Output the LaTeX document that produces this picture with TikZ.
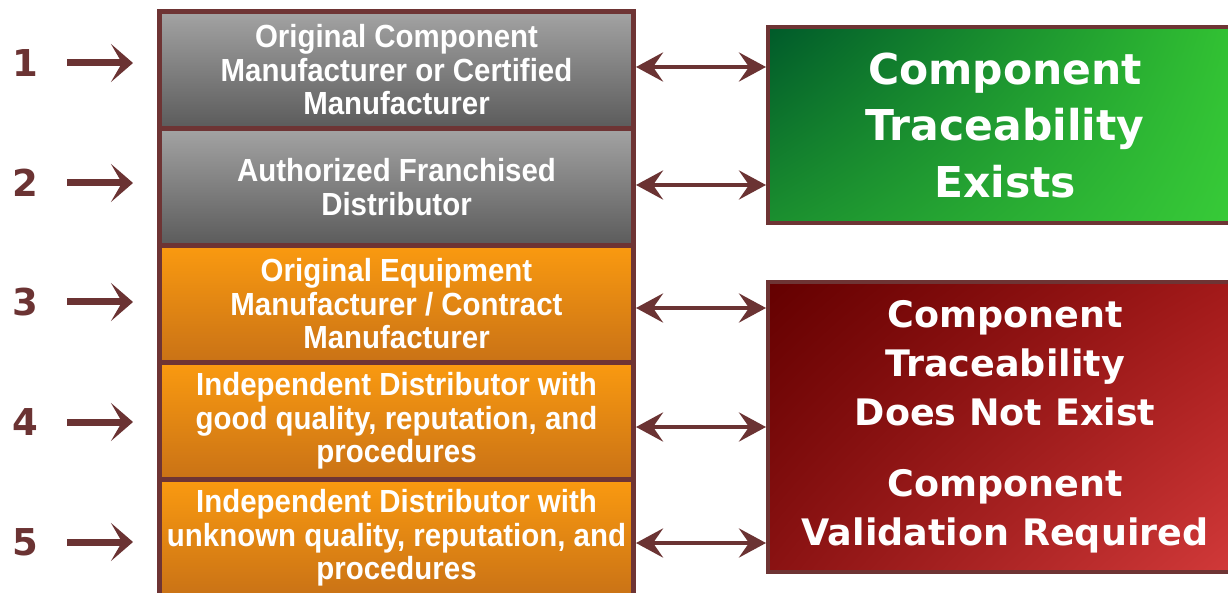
\documentclass[tikz,border=0pt]{standalone}
\usepackage{fontspec}
\setmainfont{Liberation Sans}
\newfontfamily\leftfont{Liberation Sans}[FakeStretch=0.92]
\newfontfamily\bigfont{DejaVu Sans}
\usetikzlibrary{arrows.meta,shadings}
\definecolor{brd}{HTML}{6E3434}
\definecolor{arr}{HTML}{6B3333}
\definecolor{grayA}{HTML}{A3A3A3}
\definecolor{grayB}{HTML}{5B5B5B}
\definecolor{orA}{HTML}{FA9A10}
\definecolor{orB}{HTML}{C97216}
\definecolor{grUL}{HTML}{005A2A}
\definecolor{grUR}{HTML}{33C433}
\definecolor{grLL}{HTML}{1B8F2F}
\definecolor{grLR}{HTML}{38CC38}
\definecolor{rdUL}{HTML}{640000}
\definecolor{rdUR}{HTML}{A41A1A}
\definecolor{rdLL}{HTML}{8A1212}
\definecolor{rdLR}{HTML}{D33A3A}
\begin{document}
\begin{tikzpicture}[x=1pt,y=-1pt,
  tier/.style={draw=brd, line width=5pt, minimum width=474pt, minimum height=117pt,
    inner sep=0pt, align=center, text=white,
    font=\leftfont\bfseries\fontsize{32}{33.5}\selectfont},
  graytier/.style={tier, top color=grayA, bottom color=grayB},
  orangetier/.style={tier, top color=orA, bottom color=orB},
  rbox/.style={draw=brd, line width=4pt, minimum width=474pt, inner sep=0pt,
    align=center, text=white},
  greenbox/.style={rbox, minimum height=196pt, upper left=grUL, upper right=grUR,
    lower left=grLL, lower right=grLR,
    font=\bigfont\bfseries\fontsize{42.5}{56.5}\selectfont},
  redbox/.style={rbox, minimum height=289pt, upper left=rdUL, upper right=rdUR,
    lower left=rdLL, lower right=rdLR,
    font=\bigfont\bfseries\fontsize{36.5}{49}\selectfont},
  num/.style={text=arr, inner sep=0pt, minimum width=26pt,
    font=\bigfont\bfseries\fontsize{37}{40}\selectfont},
  numarr/.style={draw=arr, line width=7pt,
    -{Stealth[length=22pt,width=38pt,inset=11pt]},
    shorten <=29pt, shorten >=24pt},
  dblarr/.style={draw=arr, line width=4.5pt,
    {Stealth[length=27pt,width=29pt,inset=10pt]}-{Stealth[length=27pt,width=29pt,inset=10pt]}}
]
\useasboundingbox (0,0) rectangle (1228,593);
\fill[white] (0,0) rectangle (1228,593);

% left tiers
\node[graytier] (b1) at (396.5,70) {Original Component\\Manufacturer or Certified\\Manufacturer};
\node[graytier] (b2) at (396.5,187) {Authorized Franchised\\Distributor};
\node[orangetier] (b3) at (396.5,304) {Original Equipment\\Manufacturer / Contract\\Manufacturer};
\node[orangetier] (b4) at (396.5,421) {Independent Distributor with\\good quality, reputation, and\\procedures};
\node[orangetier] (b5) at (396.5,538) {Independent Distributor with\\unknown quality, reputation, and\\procedures};

% right boxes
\node[greenbox] (green) at (1005,125.5) {Component\\Traceability\\Exists};
\node[redbox] (red) at (1005,427) {Component\\Traceability\\Does Not Exist\\[22pt]Component\\Validation Required};

% numbers
\node[num] (n1) at (25,63) {1};
\node[num] (n2) at (25,183) {2};
\node[num] (n3) at (25,302) {3};
\node[num] (n4) at (25,422) {4};
\node[num] (n5) at (25,542) {5};

\foreach \i in {1,...,5} {
  \draw[numarr] (n\i.east) -- (b\i.west |- n\i);
}

% double arrows
\coordinate (y1) at (0,67);
\coordinate (y2) at (0,185);
\coordinate (y3) at (0,308);
\coordinate (y4) at (0,427);
\coordinate (y5) at (0,543);
\draw[dblarr] (b1.east |- y1) -- (green.west |- y1);
\draw[dblarr] (b2.east |- y2) -- (green.west |- y2);
\draw[dblarr] (b3.east |- y3) -- (red.west |- y3);
\draw[dblarr] (b4.east |- y4) -- (red.west |- y4);
\draw[dblarr] (b5.east |- y5) -- (red.west |- y5);
\end{tikzpicture}
\end{document}
